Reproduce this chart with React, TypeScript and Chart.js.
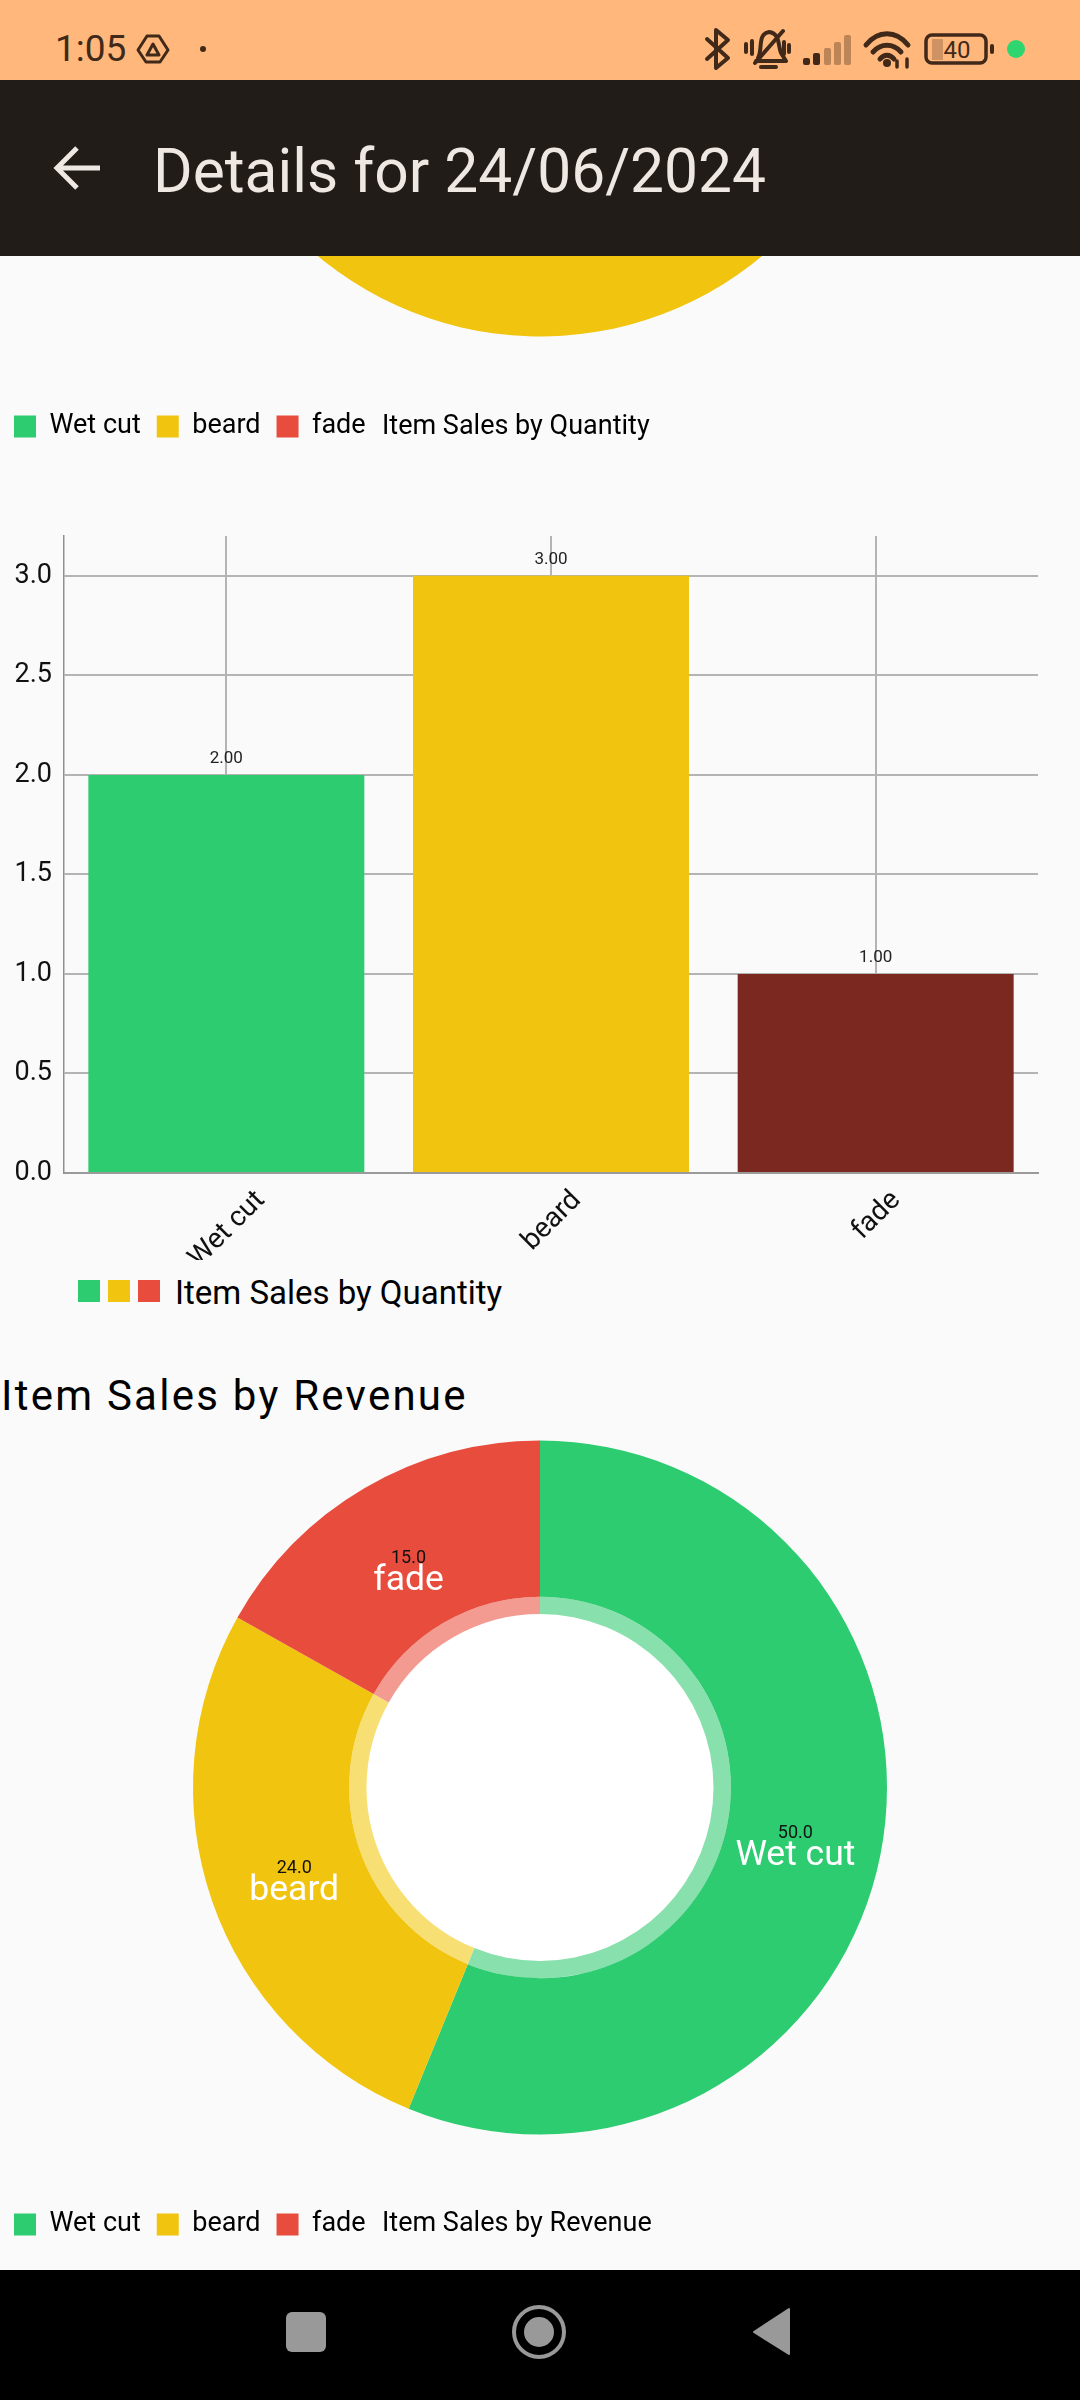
import React, { useEffect, useRef } from 'react';
import Chart from 'chart.js/auto';

const categories = ['Wet cut', 'beard', 'fade'];
const quantityValues = [2, 3, 1];
const revenueValues = [50, 24, 15];

const sliceColors = ['#2ECC71', '#F1C40F', '#E74C3C'];
const ringColors = ['#88E1AD', '#F7DF73', '#F39B91'];
const barColors = ['#2ECC71', '#F1C40F', '#7B2820'];

const quantityLabel = 'Item Sales by Quantity';
const revenueLabel = 'Item Sales by Revenue';

const FONT = 'Roboto';
Chart.defaults.font.family = FONT;

// white middle of the doughnut, the page behind it is slightly grey
const holePlugin = {
  id: 'hole',
  beforeDatasetsDraw(chart: any) {
    const arc = chart.getDatasetMeta(1).data[0];
    const { ctx } = chart;
    ctx.save();
    ctx.fillStyle = '#FFFFFF';
    ctx.beginPath();
    ctx.arc(arc.x, arc.y, arc.innerRadius, 0, Math.PI * 2);
    ctx.fill();
    ctx.restore();
  },
};

// slice name in white with the value above it
const sliceLabelPlugin = {
  id: 'sliceLabels',
  afterDatasetsDraw(chart: any) {
    const { ctx } = chart;
    const values = chart.data.datasets[0].data;
    ctx.save();
    ctx.textAlign = 'center';
    ctx.textBaseline = 'alphabetic';
    chart.getDatasetMeta(0).data.forEach((arc: any, i: number) => {
      const mid = (arc.startAngle + arc.endAngle) / 2;
      const x = arc.x + Math.cos(mid) * arc.outerRadius * 0.75;
      const y = arc.y + Math.sin(mid) * arc.outerRadius * 0.75;
      ctx.fillStyle = '#FFFFFF';
      ctx.font = `35.5px ${FONT}`;
      ctx.fillText(chart.data.labels[i], x, y + 27);
      ctx.fillStyle = '#111111';
      ctx.font = `18px ${FONT}`;
      ctx.fillText(values[i].toFixed(1), x, y);
    });
    ctx.restore();
  },
};

const barLabelPlugin = {
  id: 'barLabels',
  afterDatasetsDraw(chart: any) {
    const { ctx } = chart;
    const values = chart.data.datasets[0].data;
    ctx.save();
    ctx.textAlign = 'center';
    ctx.textBaseline = 'alphabetic';
    ctx.fillStyle = '#222222';
    ctx.font = `17px ${FONT}`;
    chart.getDatasetMeta(0).data.forEach((bar: any, i: number) => {
      ctx.fillText(values[i].toFixed(2), bar.x, bar.y - 12);
    });
    ctx.restore();
  },
};

// category labels are centred on the tick and turned 45 degrees
const slantedTicksPlugin = {
  id: 'slantedTicks',
  afterDraw(chart: any) {
    const { ctx } = chart;
    const scale = chart.scales.x;
    ctx.save();
    ctx.fillStyle = '#111111';
    ctx.font = `28px ${FONT}`;
    ctx.textAlign = 'center';
    ctx.textBaseline = 'middle';
    chart.data.labels.forEach((label: string, i: number) => {
      const w = ctx.measureText(label).width;
      const extent = (w + 20) * Math.SQRT1_2;
      ctx.save();
      ctx.translate(scale.getPixelForTick(i) + 1, scale.top + 16 + extent / 2);
      ctx.rotate(-Math.PI / 4);
      ctx.fillText(label, 0, 0);
      ctx.restore();
    });
    ctx.restore();
  },
};

const DoughnutPanel: React.FC<{ values: number[]; top: number }> = ({ values, top }) => {
  const ref = useRef<HTMLCanvasElement>(null);

  useEffect(() => {
    if (!ref.current) return;
    const chart = new Chart(ref.current, {
      type: 'doughnut',
      data: {
        labels: categories,
        datasets: [
          { data: values, backgroundColor: sliceColors, borderWidth: 0, weight: 9 },
          { data: values, backgroundColor: ringColors, borderWidth: 0, weight: 1 },
        ],
      },
      options: {
        animation: false,
        responsive: false,
        radius: 347,
        cutout: '50%',
        plugins: {
          tooltip: { enabled: false },
          legend: {
            position: 'bottom',
            align: 'start',
            labels: { boxWidth: 22, boxHeight: 22, padding: 16, color: '#000000', font: { size: 27 } },
          },
        },
      },
      plugins: [holePlugin, sliceLabelPlugin],
    } as any);
    return () => chart.destroy();
  }, []);

  return <canvas ref={ref} width={1084} height={868} style={{ position: 'absolute', left: -2, top, width: 1084, height: 868 }} />;
};

const BarPanel: React.FC = () => {
  const ref = useRef<HTMLCanvasElement>(null);

  useEffect(() => {
    if (!ref.current) return;
    const chart = new Chart(ref.current, {
      type: 'bar',
      data: {
        labels: categories,
        datasets: [
          {
            label: quantityLabel,
            data: quantityValues,
            backgroundColor: barColors,
            categoryPercentage: 1,
            barPercentage: 0.85,
          },
        ],
      },
      options: {
        animation: false,
        responsive: false,
        layout: { padding: { top: 36, right: 42 } },
        plugins: { legend: { display: false }, tooltip: { enabled: false } },
        scales: {
          x: {
            grid: { color: '#B4B4B4', lineWidth: 2, drawTicks: false, offset: false },
            border: { color: '#9A9A9A', width: 2 },
            ticks: { display: false },
            afterFit: (s: any) => {
              s.height = 87;
            },
          },
          y: {
            min: 0,
            max: 3.2,
            grid: { color: '#B4B4B4', lineWidth: 2, drawTicks: false },
            border: { color: '#8F8F8F', width: 1.5 },
            ticks: {
              stepSize: 0.5,
              includeBounds: false,
              padding: 12,
              color: '#111111',
              font: { size: 27 },
              callback: (v: any) => Number(v).toFixed(1),
            },
            afterFit: (s: any) => {
              s.width = 64;
            },
          },
        },
      },
      plugins: [barLabelPlugin, slantedTicksPlugin],
    } as any);
    return () => chart.destroy();
  }, []);

  return <canvas ref={ref} width={1080} height={760} style={{ position: 'absolute', left: 0, top: 500, width: 1080, height: 760 }} />;
};

const Label: React.FC<{ x: number; y: number; size: number; color?: string; spacing?: number; children: React.ReactNode }> = ({
  x,
  y,
  size,
  color = '#000000',
  spacing = 0,
  children,
}) => (
  <div
    style={{
      position: 'absolute',
      left: x,
      top: y - size,
      height: size * 2,
      lineHeight: `${size * 2}px`,
      fontFamily: FONT,
      fontSize: size,
      color,
      letterSpacing: spacing,
      whiteSpace: 'nowrap',
    }}
  >
    {children}
  </div>
);

const STATUS_INK = '#41291A';

const StatusIcons = () => (
  <svg width={1080} height={80} style={{ position: 'absolute', left: 0, top: 0 }} fill="none" stroke={STATUS_INK} strokeWidth={3.5} strokeLinejoin="round" strokeLinecap="round">
    {/* drive */}
    <path d="M147 36 H159 L168 50 L160 62 H146 L138 50 Z" strokeWidth={3} />
    <path d="M153 44 L159 55 H147 Z" strokeWidth={3} />
    <circle cx={203} cy={49} r={3} fill={STATUS_INK} stroke="none" />
    {/* bluetooth */}
    <path d="M707 39 L728 58 L716 68 V30 L728 40 L707 59" strokeWidth={4} />
    {/* muted bell */}
    <path d="M758 58 C763 50 757 34 769 32 C780 33 778 46 781 53 L786 61 H756" strokeWidth={4} />
    <path d="M761 67 H776 M755 63 L783 31 M746 44 V52 M752 41 V54 M784 42 V54 M789 45 V52" strokeWidth={4} />
    {/* signal */}
    <g stroke="none" fill={STATUS_INK}>
      <rect x={803} y={58} width={7} height={7} rx={2} />
      <rect x={813} y={53} width={7} height={12} rx={2} />
      <g opacity={0.35}>
        <rect x={824} y={48} width={7} height={17} rx={2} />
        <rect x={834} y={42} width={7} height={23} rx={2} />
        <rect x={844} y={35} width={7} height={30} rx={2} />
      </g>
    </g>
    {/* wifi */}
    <path d="M866 45 C878 30 896 30 908 45" strokeWidth={5} />
    <path d="M873 52 C881 43 893 43 901 52" strokeWidth={5} />
    <path d="M880 59 C884 54 890 54 894 59" strokeWidth={5} />
    <circle cx={887} cy={63} r={4} fill={STATUS_INK} stroke="none" />
    <path d="M897 61 V67 M907 59 V67" strokeWidth={3.5} />
    {/* battery */}
    <rect x={932} y={39} width={11} height={21} fill={STATUS_INK} opacity={0.25} stroke="none" />
    <rect x={926} y={35} width={60} height={28} rx={6} strokeWidth={3.5} />
    <rect x={990} y={44} width={4} height={10} rx={2} fill={STATUS_INK} stroke="none" />
    <text x={957} y={58} textAnchor="middle" fontFamily={FONT} fontSize={24} fill={STATUS_INK} stroke="none">
      40
    </text>
    <circle cx={1016} cy={49} r={9} fill="#2FD66F" stroke="none" />
  </svg>
);

const NavIcons = () => (
  <svg width={1080} height={130} style={{ position: 'absolute', left: 0, top: 2270 }} fill="#999999">
    <rect x={286} y={42} width={40} height={40} rx={6} />
    <circle cx={539} cy={62} r={25} fill="none" stroke="#999999" strokeWidth={4} />
    <circle cx={539} cy={62} r={15} />
    <path d="M789 39 V84 L754 62 Z" stroke="#999999" strokeWidth={2} strokeLinejoin="round" />
  </svg>
);

const App: React.FC = () => (
  <div style={{ position: 'absolute', left: 0, top: 0, width: 1080, height: 2400, overflow: 'hidden', background: '#FAFAFA' }}>
    <DoughnutPanel values={quantityValues} top={-418} />
    <Label x={382} y={425} size={27}>{quantityLabel}</Label>

    <BarPanel />
    <div style={{ position: 'absolute', left: 78, top: 1280, width: 22, height: 22, background: sliceColors[0] }} />
    <div style={{ position: 'absolute', left: 108, top: 1280, width: 22, height: 22, background: sliceColors[1] }} />
    <div style={{ position: 'absolute', left: 138, top: 1280, width: 22, height: 22, background: sliceColors[2] }} />
    <Label x={175} y={1293} size={33}>{quantityLabel}</Label>

    <Label x={1} y={1396} size={42} spacing={2.25}>{revenueLabel}</Label>
    <DoughnutPanel values={revenueValues} top={1380} />
    <Label x={382} y={2222} size={27}>{revenueLabel}</Label>

    <div style={{ position: 'absolute', left: 0, top: 0, width: 1080, height: 80, background: '#FFB77B' }} />
    <Label x={55} y={49} size={37} color={STATUS_INK}>1:05</Label>
    <StatusIcons />

    <div style={{ position: 'absolute', left: 0, top: 80, width: 1080, height: 176, background: '#211C18' }} />
    <svg width={60} height={60} style={{ position: 'absolute', left: 48, top: 138 }} fill="none" stroke="#EFE7E2" strokeWidth={5}>
      <path d="M52 30 H10 M29 10 L9 30 L29 50" />
    </svg>
    <Label x={153} y={171} size={60.5} color="#EFE7E2">Details for 24/06/2024</Label>

    <div style={{ position: 'absolute', left: 0, top: 2270, width: 1080, height: 130, background: '#000000' }} />
    <NavIcons />
  </div>
);

export default App;
